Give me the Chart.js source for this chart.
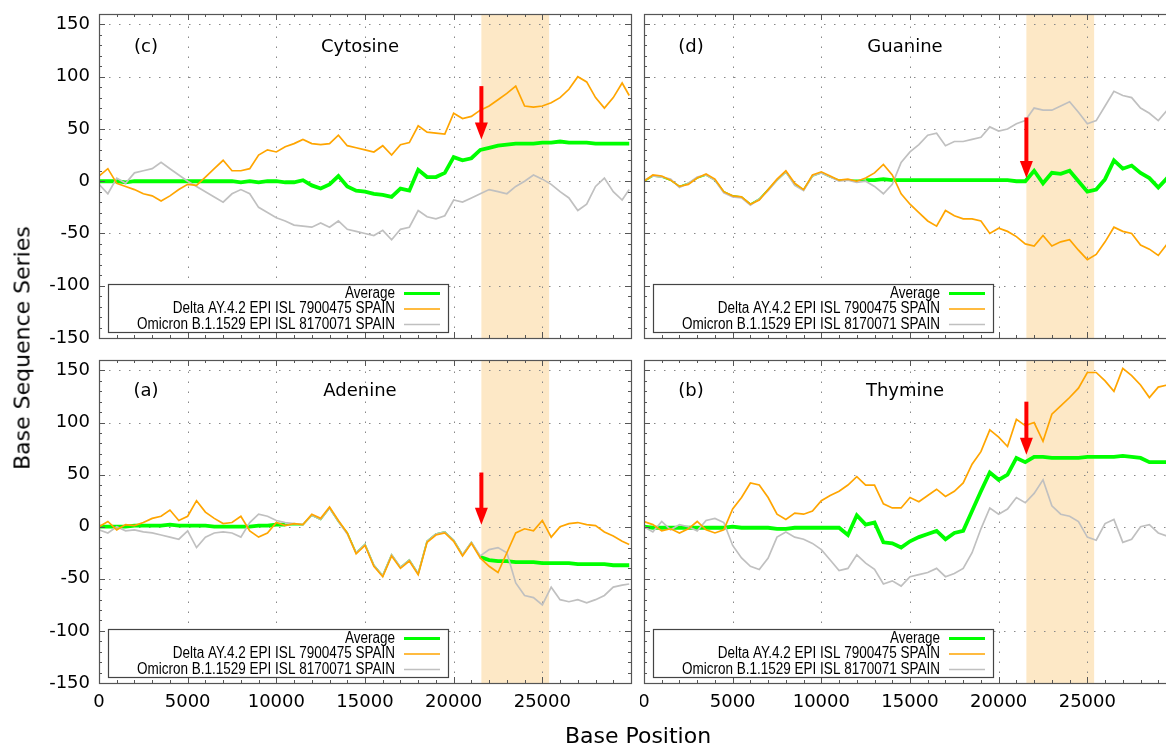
<!DOCTYPE html>
<html><head><meta charset="utf-8">
<script src="https://cdn.jsdelivr.net/npm/chart.js@4.4.0/dist/chart.umd.min.js"></script>
<style>
html,body{margin:0;padding:0;background:#fff;overflow:hidden;width:1166px;height:745px;position:relative;}
canvas{position:absolute;display:block;}
.lab{position:absolute;font-family:'DejaVu Sans';font-size:22px;color:#000;white-space:nowrap;}
</style></head>
<body>
<canvas id="pc" width="640" height="355" style="left:0;top:0"></canvas>
<canvas id="pd" width="545" height="355" style="left:640px;top:0"></canvas>
<canvas id="pa" width="640" height="395" style="left:0;top:350px"></canvas>
<canvas id="pb" width="545" height="395" style="left:640px;top:350px"></canvas>
<div class="lab" style="left:22px;top:348px;transform:translate(-50%,-50%) rotate(-90deg);">Base Sequence Series</div>
<div class="lab" style="left:638px;top:735px;transform:translate(-50%,-50%);">Base Position</div>
<script>
// ---------- data ----------
const positions = [
  0,500,1000,1500,2000,2500,3000,3500,4000,4500,
  5000,5500,6000,6500,7000,7500,8000,8500,9000,9500,
  10000,10500,11000,11500,12000,12500,13000,13500,14000,14500,
  15000,15500,16000,16500,17000,17500,18000,18500,19000,19500,
  20000,20500,21000,21500,22000,22500,23000,23500,24000,24500,
  25000,25500,26000,26500,27000,27500,28000,28500,29000,29500,
  29900];
const xTicks = [0,5000,10000,15000,20000,25000];
const yTicks = [-150,-100,-50,0,50,100,150];
const legendLabels = ['Average','Delta AY.4.2 EPI ISL 7900475 SPAIN','Omicron B.1.1529 EPI ISL 8170071 SPAIN'];
const spikeRegion = [21563, 25384];

// (c) Cytosine
const C_delta = [5,12,-2,-5,-8,-12,-14,-19,-14,-8,
  -3,-4,4,12,20,10,10,12,25,30,
  28,33,36,40,36,35,36,44,34,32,
  30,28,34,25,35,37,53,47,46,45,
  65,60,62,68,72,78,84,91,72,71,
  72,75,80,88,100,95,80,70,80,94,
  82];
const C_omicron = [-3,-12,3,-2,8,10,12,18,12,6,
  0,-5,-10,-15,-20,-12,-8,-12,-25,-30,
  -35,-38,-42,-43,-44,-40,-44,-38,-46,-48,
  -50,-52,-47,-56,-46,-44,-28,-34,-36,-33,
  -18,-20,-16,-12,-8,-10,-12,-5,0,6,
  2,-3,-10,-16,-28,-22,-5,3,-10,-18,
  -8];
const C_avg = [0,0,0,-1,0,0,0,0,0,0,
  0,0,0,0,0,0,-1,0,-1,0,
  0,-1,-1,1,-4,-7,-3,5,-5,-9,
  -10,-12,-13,-15,-7,-9,11,4,4,8,
  23,20,22,30,32,34,35,36,36,36,
  37,37,38,37,37,37,36,36,36,36,
  36];
const C_arrow = [91, 40];

// (d) Guanine
const G_delta = [0,6,5,1,-5,-3,3,7,2,-10,
  -14,-15,-22,-18,-8,2,10,-2,-8,6,
  9,5,1,2,0,3,8,16,6,-12,
  -22,-30,-38,-43,-28,-33,-36,-36,-38,-50,
  -45,-48,-53,-60,-62,-52,-62,-58,-56,-66,
  -75,-70,-58,-44,-48,-50,-61,-65,-71,-60,
  -62];
const G_omicron = [1,5,4,2,-6,-2,4,6,1,-11,
  -15,-16,-23,-17,-9,1,9,-4,-9,5,
  8,4,0,1,-1,0,-5,-12,-3,18,
  28,35,44,46,34,38,38,40,42,52,
  48,50,55,58,70,68,68,72,76,66,
  55,58,72,86,82,80,70,65,58,68,
  66];
const G_avg = [0,5,4,1,-5,-2,3,6,1,-10,
  -14,-15,-22,-17,-8,1,9,-3,-8,5,
  8,4,1,1,1,1,1,2,1,1,
  1,1,1,1,1,1,1,1,1,1,
  1,1,0,0,10,-2,8,7,10,0,
  -10,-8,2,20,12,15,8,3,-6,3,
  4];
const G_arrow = [61, 3];

// (a) Adenine
const A_delta = [0,5,-3,2,1,4,8,10,16,6,
  10,25,14,8,3,4,10,-4,-10,-6,
  4,1,3,2,12,8,19,6,-6,-26,
  -18,-38,-48,-28,-40,-33,-46,-15,-8,-6,
  -14,-28,-16,-30,-38,-44,-25,-6,-2,-4,
  6,-10,0,3,4,2,1,-5,-9,-14,
  -17];
const A_omicron = [-3,-6,0,-4,-3,-5,-6,-8,-10,-12,
  -4,-20,-10,-6,-5,-6,-10,4,12,10,
  6,4,3,2,11,7,18,5,-7,-25,
  -17,-37,-47,-27,-39,-32,-45,-14,-7,-5,
  -13,-27,-15,-28,-22,-20,-25,-54,-66,-68,
  -75,-58,-70,-72,-70,-73,-70,-66,-58,-56,
  -55];
const A_avg = [0,0,0,0,1,1,1,1,2,1,
  1,1,1,0,0,0,0,0,1,1,
  2,2,2,2,11,7,18,5,-6,-25,
  -17,-37,-47,-27,-39,-32,-45,-14,-7,-5,
  -13,-27,-15,-29,-32,-33,-33,-34,-34,-34,
  -35,-35,-35,-35,-36,-36,-36,-36,-37,-37,
  -37];
const A_arrow = [52, 2];

// (b) Thymine
const T_delta = [5,2,-4,-2,-6,-2,5,-3,-6,-3,
  17,28,42,40,28,12,7,13,12,15,
  25,30,34,40,48,40,40,22,18,18,
  28,24,30,36,29,34,42,60,72,93,
  86,77,103,97,100,82,108,116,124,133,
  148,148,140,130,152,145,136,124,134,136,
  138];
const T_omicron = [0,-5,5,-3,2,0,-4,6,8,4,
  -18,-30,-38,-41,-30,-10,-5,-10,-12,-16,
  -22,-32,-42,-40,-27,-35,-41,-55,-52,-57,
  -48,-46,-44,-40,-48,-45,-40,-25,-2,18,
  12,17,28,23,32,45,20,12,10,5,
  -10,-13,3,7,-15,-12,0,2,-6,-9,
  -10];
const T_avg = [0,-1,-1,-1,-1,-1,-1,-1,-1,-1,
  0,-1,-1,-1,-1,-2,-2,-1,-1,-1,
  -1,-1,-1,-8,11,2,4,-15,-16,-20,
  -14,-10,-7,-4,-12,-6,-4,15,34,52,
  45,50,66,62,67,67,66,66,66,66,
  67,67,67,67,68,67,66,62,62,62,
  62];
const T_arrow = [120, 69];

// ---------- styling ----------
const COL_AVG = '#00ff00', COL_DELTA = '#ffa500', COL_OMI = '#c0c0c0';
const FONT = 'DejaVu Sans';

const decor = {
  id: 'decor',
  beforeDatasetsDraw(chart, args, o) {
    const {ctx, chartArea: a} = chart;
    const x = chart.scales.x, y = chart.scales.y;
    ctx.save();
    const x0 = x.getPixelForValue(spikeRegion[0]), x1 = x.getPixelForValue(spikeRegion[1]);
    ctx.fillStyle = '#fde8c6';
    ctx.fillRect(x0, a.top, x1 - x0, a.bottom - a.top);
    ctx.strokeStyle = '#888';
    ctx.lineWidth = 1;
    ctx.setLineDash([1.5, 8.5]);
    xTicks.forEach(v => {
      if (v <= 0) return;
      const px = Math.round(x.getPixelForValue(v)) + 0.5;
      ctx.beginPath(); ctx.moveTo(px, a.bottom); ctx.lineTo(px, a.top); ctx.stroke();
    });
    yTicks.forEach(v => {
      if (v <= -150) return;
      const py = Math.round(y.getPixelForValue(v)) + 0.5;
      ctx.beginPath(); ctx.moveTo(a.left, py); ctx.lineTo(a.right, py); ctx.stroke();
    });
    ctx.restore();
  },
  afterDatasetsDraw(chart, args, o) {
    const {ctx, chartArea: a} = chart;
    const x = chart.scales.x, y = chart.scales.y;
    ctx.save();
    // border
    ctx.strokeStyle = '#555';
    ctx.lineWidth = 1.2;
    ctx.strokeRect(Math.round(a.left) + 0.5, Math.round(a.top) + 0.5, Math.round(a.right - a.left), Math.round(a.bottom - a.top));
    // ticks (inward, mirrored)
    ctx.lineWidth = 1;
    ctx.strokeStyle = '#555';
    const tick = (x1, y1, x2, y2) => { ctx.beginPath(); ctx.moveTo(x1, y1); ctx.lineTo(x2, y2); ctx.stroke(); };
    for (let v = 0; v <= 30000; v += 1000) {
      const px = Math.round(x.getPixelForValue(v)) + 0.5;
      const L = (v % 5000 === 0) ? 6 : 3;
      tick(px, a.bottom, px, a.bottom - L);
      tick(px, a.top, px, a.top + L);
    }
    for (let v = -150; v <= 160; v += 10) {
      const py = Math.round(y.getPixelForValue(v)) + 0.5;
      const L = (v % 50 === 0) ? 6 : 3;
      tick(a.left, py, a.left + L, py);
      tick(a.right, py, a.right - L, py);
    }
    // arrow
    const ax = x.getPixelForValue(spikeRegion[0]);
    const ay0 = y.getPixelForValue(o.arrow[0]), ay1 = y.getPixelForValue(o.arrow[1]);
    ctx.fillStyle = '#ff0000';
    ctx.fillRect(ax - 2, ay0, 4, (ay1 - ay0) - 14);
    ctx.beginPath();
    ctx.moveTo(ax - 6.5, ay1 - 17); ctx.lineTo(ax + 6.5, ay1 - 17); ctx.lineTo(ax, ay1); ctx.closePath(); ctx.fill();
    // titles
    ctx.fillStyle = '#000';
    ctx.font = '18px "' + FONT + '"';
    ctx.textAlign = 'center';
    ctx.textBaseline = 'middle';
    ctx.fillText(o.letter, a.left + 47, a.top + o.titleDy);
    ctx.fillText(o.name, a.left + 261, a.top + o.titleDy);
    // legend
    const lx = Math.round(a.left) + 9, ly = Math.round(a.bottom) - 54, lw = 340, lh = 48;
    ctx.fillStyle = '#fff';
    ctx.fillRect(lx, ly, lw, lh);
    ctx.strokeStyle = '#444';
    ctx.lineWidth = 1.2;
    ctx.strokeRect(lx + 0.5, ly + 0.5, lw, lh);
    const rows = [
      {t: legendLabels[0], c: COL_AVG, w: 3, dy: 9.5},
      {t: legendLabels[1], c: COL_DELTA, w: 1.5, dy: 25},
      {t: legendLabels[2], c: COL_OMI, w: 1.5, dy: 40.5}
    ];
    ctx.font = '16px "Liberation Sans", Arial, sans-serif';
    const sx = 258 / ctx.measureText(legendLabels[2]).width;
    ctx.textAlign = 'right';
    rows.forEach(r => {
      ctx.save();
      ctx.translate(lx + 287, ly + r.dy);
      ctx.scale(sx, 1);
      ctx.fillStyle = '#000';
      ctx.fillText(r.t, 0, 0);
      ctx.restore();
      ctx.strokeStyle = r.c; ctx.lineWidth = r.w;
      ctx.beginPath(); ctx.moveTo(lx + 296, ly + r.dy); ctx.lineTo(lx + 332, ly + r.dy); ctx.stroke();
    });
    ctx.restore();
  }
};

function makePanel(p) {
  const mk = arr => positions.map((xv, i) => ({x: xv, y: arr[i]}));
  // where the average coincides with both sequences it is hidden beneath them
  const covered = i => Math.abs(p.avg[i] - p.delta[i]) <= 2 && Math.abs(p.avg[i] - p.omicron[i]) <= 2;
  return new Chart(document.getElementById(p.id), {
    type: 'line',
    data: {datasets: [
      {label: legendLabels[1], data: mk(p.delta), borderColor: COL_DELTA, borderWidth: 1.7, pointRadius: 0, tension: 0},
      {label: legendLabels[2], data: mk(p.omicron), borderColor: COL_OMI, borderWidth: 1.7, pointRadius: 0, tension: 0},
      {label: legendLabels[0], data: mk(p.avg), borderColor: COL_AVG, borderWidth: 3.8, pointRadius: 0, tension: 0,
       segment: {borderWidth: c => (covered(c.p0DataIndex) && covered(c.p1DataIndex)) ? 1.6 : 3.8}}
    ]},
    options: {
      responsive: false, animation: false, devicePixelRatio: 1,
      layout: {padding: {top: p.padTop, right: 9, left: 0, bottom: 0}},
      plugins: {
        legend: {display: false}, tooltip: {enabled: false},
        decor: {arrow: p.arrow, letter: p.letter, name: p.name, titleDy: p.titleDy}
      },
      scales: {
        x: {
          type: 'linear', min: 0, max: 30000,
          grid: {display: false, drawTicks: false}, border: {display: false},
          ticks: {display: p.xLabels, color: '#000', font: {family: FONT, size: 18}, padding: 9,
                  maxRotation: 0, autoSkip: false, callback: v => String(v)},
          afterBuildTicks: s => { s.ticks = xTicks.map(v => ({value: v})); },
          afterFit: s => { s.height = p.xAxisH; s.paddingLeft = 0; s.paddingRight = 0; }
        },
        y: {
          type: 'linear', min: -150, max: 160,
          grid: {display: false, drawTicks: false}, border: {display: false},
          ticks: {display: p.yLabels, color: '#000', font: {family: FONT, size: 18}, padding: 9,
                  callback: v => String(v)},
          afterBuildTicks: s => { s.ticks = yTicks.map(v => ({value: v})); },
          afterFit: s => { s.width = p.yAxisW; s.paddingTop = 0; s.paddingBottom = 0; }
        }
      }
    },
    plugins: [decor]
  });
}

const panels = [
  {id: 'pc', letter: '(c)', name: 'Cytosine', delta: C_delta, omicron: C_omicron, avg: C_avg, arrow: C_arrow,
   padTop: 14, xAxisH: 17, yAxisW: 99, xLabels: false, yLabels: true, titleDy: 33},
  {id: 'pd', letter: '(d)', name: 'Guanine', delta: G_delta, omicron: G_omicron, avg: G_avg, arrow: G_arrow,
   padTop: 14, xAxisH: 17, yAxisW: 4, xLabels: false, yLabels: false, titleDy: 33},
  {id: 'pa', letter: '(a)', name: 'Adenine', delta: A_delta, omicron: A_omicron, avg: A_avg, arrow: A_arrow,
   padTop: 10, xAxisH: 62, yAxisW: 99, xLabels: true, yLabels: true, titleDy: 31},
  {id: 'pb', letter: '(b)', name: 'Thymine', delta: T_delta, omicron: T_omicron, avg: T_avg, arrow: T_arrow,
   padTop: 10, xAxisH: 62, yAxisW: 4, xLabels: true, yLabels: false, titleDy: 31}
];
panels.forEach(makePanel);
</script>
</body></html>
